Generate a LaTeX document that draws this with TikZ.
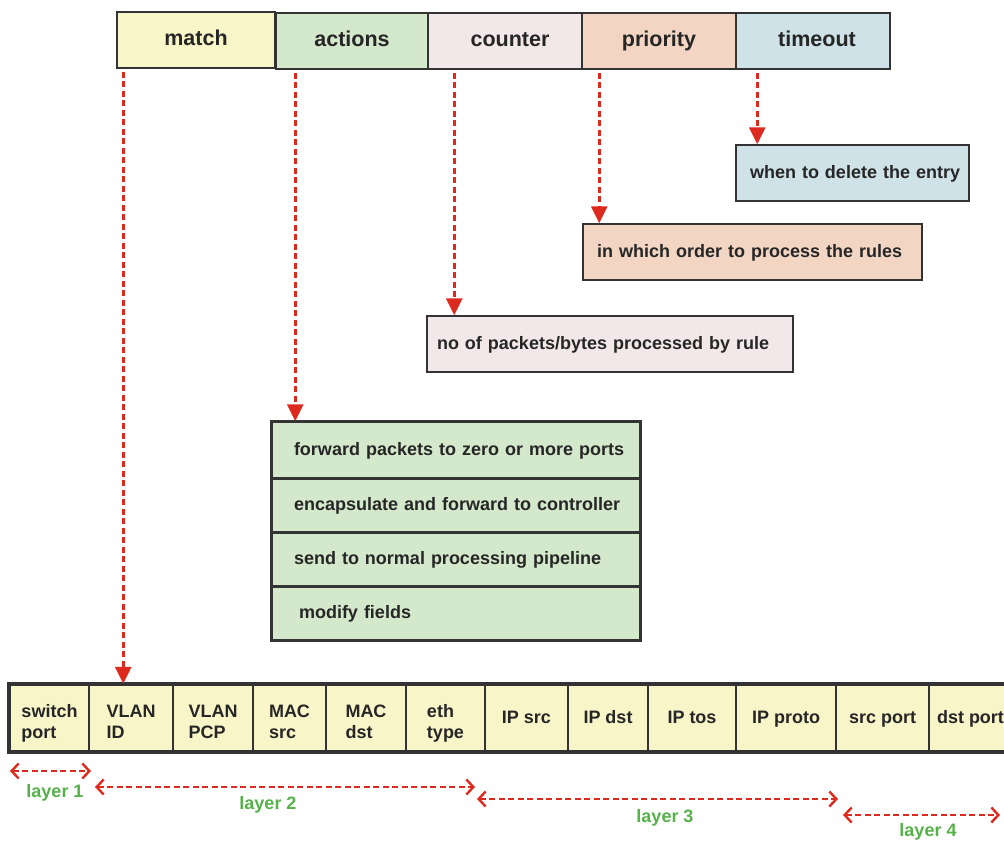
\documentclass[tikz,border=0pt]{standalone}
\usepackage{fontspec}
\setmainfont{Liberation Sans}
\usepackage{tikz}
\usetikzlibrary{arrows.meta,positioning,calc}
\usepackage{xcolor}

\definecolor{matchfill}{HTML}{F8F6C9}
\definecolor{actfill}{HTML}{D4E8CB}
\definecolor{cntfill}{HTML}{F2E7E9}
\definecolor{prifill}{HTML}{F2D6C3}
\definecolor{tmofill}{HTML}{CEE2E7}
\definecolor{linegray}{HTML}{333333}
\definecolor{txtgray}{HTML}{262626}
\definecolor{arrowred}{HTML}{DD2A1E}
\definecolor{layergreen}{HTML}{55B249}

\newcommand\boxstrut{\rule[-4pt]{0pt}{18pt}}

\tikzset{
  strutted/.style={execute at begin node=\boxstrut, execute at end node=\boxstrut},
  lpad/.style={execute at begin node=\hspace*{#1}},
  topbox/.style={draw=linegray, line width=1.5pt, minimum height=56pt, inner sep=0pt,
    text=txtgray, execute at begin node=\strut, execute at end node=\strut,
    font=\fontsize{21.5}{25}\selectfont\bfseries},
  descbox/.style={draw=linegray, line width=1.5pt, minimum height=56pt, inner sep=0pt,
    align=left, text=txtgray, strutted, lpad=14pt,
    font=\fontsize{18}{21}\selectfont\bfseries},
  actrow/.style={draw=linegray, line width=1.5pt, fill=actfill, minimum height=#1,
    text width=368pt, inner sep=0pt, align=left, text=txtgray, strutted, lpad=22pt,
    font=\fontsize{18}{21}\selectfont\bfseries},
  cell/.style={draw=linegray, line width=2.5pt, fill=matchfill, minimum height=66pt,
    inner sep=0pt, align=left, text=txtgray, strutted,
    font=\fontsize{18}{21}\selectfont\bfseries},
  cell2/.style={cell, text height=44pt, text depth=4pt},
  flowarrow/.style={draw=arrowred, line width=2.8pt, dash pattern=on 6pt off 3.5pt,
    shorten <=3pt, -{Triangle[length=17pt,width=16pt]}},
  layerarrow/.style={draw=arrowred, line width=2.4pt, dash pattern=on 6pt off 3.5pt,
    {Straight Barb[length=7pt,width=15pt,line width=2.4pt]}-{Straight Barb[length=7pt,width=15pt,line width=2.4pt]}},
  layerlbl/.style={text=layergreen, font=\fontsize{18}{21}\selectfont\bfseries}
}

\begin{document}
\begin{tikzpicture}[x=1pt,y=-1pt]
  \useasboundingbox (0,0) rectangle (1004,841);
  % flow entry fields
  \node[topbox, fill=matchfill, minimum width=158pt] (match) at (196,40) {match};
  \node[topbox, fill=actfill, minimum width=152pt] (actions) at (352,41) {actions};
  \node[topbox, fill=cntfill, minimum width=154pt] (counter) at (505,41) {\hspace*{10pt}counter};
  \node[topbox, fill=prifill, minimum width=154pt] (priority) at (659,41) {priority};
  \node[topbox, fill=tmofill, minimum width=154pt] (timeout) at (813,41) {\hspace*{8pt}timeout};

  % explanations
  \node[descbox, fill=tmofill, text width=233pt] (tmodesc) at (852.5,173) {when to delete the entry};
  \node[descbox, fill=prifill, text width=339pt] (pridesc) at (752.5,252) {in which order to process the rules};
  \node[descbox, fill=cntfill, text width=366pt, lpad=-4pt] (cntdesc) at (610,344) {no of packets/bytes processed by rule};

  \node[actrow=56pt] (act1) at (456,450) {forward packets to zero or more ports};
  \node[actrow=52pt, below=0pt of act1] (act2) {encapsulate and forward to controller};
  \node[actrow=53pt, below=0pt of act2] (act3) {send to normal processing pipeline};
  \node[actrow=52pt, below=0pt of act3] (act4) {\hspace*{5pt}modify fields};
  \draw[linegray, line width=3pt] (act1.north west) rectangle (act4.south east);

  % header fields
  \foreach \nm/\xa/\xb/\st/\txt in {sw/10/89/cell2/{switch\\port}, vid/89/173/cell2/{VLAN\\ID},
      vpcp/173/253/cell2/{VLAN\\PCP}, msrc/253/326/cell2/{MAC\\src},
      mdst/326/406/cell2/{MAC\\dst}, eth/406/485/cell2/{eth\\type},
      ipsrc/485/568/cell/{IP src}, ipdst/568/648/cell/{IP dst},
      iptos/648/736/cell/{IP tos}, ipproto/736/836/cell/{IP proto},
      sport/836/929/cell/{src port}, dport/929/1012/cell/{dst port}}
    \node[\st, minimum width={\xb-\xa}] (\nm) at ({(\xa+\xb)/2},718) {\txt};
  \draw[linegray, line width=3pt] (sw.north west) rectangle (dport.south east);

  % pointers
  \draw[flowarrow] ([xshift=7pt]match.south west) coordinate (m0) -- (m0 |- vid.north);
  \draw[flowarrow] ([xshift=20pt]actions.south west) coordinate (a0) -- (a0 |- act1.north);
  \draw[flowarrow] ([xshift=27pt]counter.south west) coordinate (c0) -- (c0 |- cntdesc.north);
  \draw[flowarrow] ([xshift=18pt]priority.south west) coordinate (p0) -- (p0 |- pridesc.north);
  \draw[flowarrow] ([xshift=22pt]timeout.south west) coordinate (t0) -- (t0 |- tmodesc.north);

  % layers
  \coordinate (l1w) at (10,771);  \coordinate (l1e) at (91,771);
  \coordinate (l2w) at (95,787);  \coordinate (l2e) at (475,787);
  \coordinate (l3w) at (477,799); \coordinate (l3e) at (838,799);
  \coordinate (l4w) at (843,815); \coordinate (l4e) at (1000,815);
  \draw[layerarrow] (l1w) -- (l1e);
  \draw[layerarrow] (l2w) -- (l2e);
  \draw[layerarrow] (l3w) -- (l3e);
  \draw[layerarrow] (l4w) -- (l4e);
  \node[layerlbl] (lay1) at (55,793) {layer 1};
  \node[layerlbl] (lay2) at (268,805) {layer 2};
  \node[layerlbl] (lay3) at (665,818) {layer 3};
  \node[layerlbl] (lay4) at (928,832) {layer 4};
\end{tikzpicture}
\end{document}
